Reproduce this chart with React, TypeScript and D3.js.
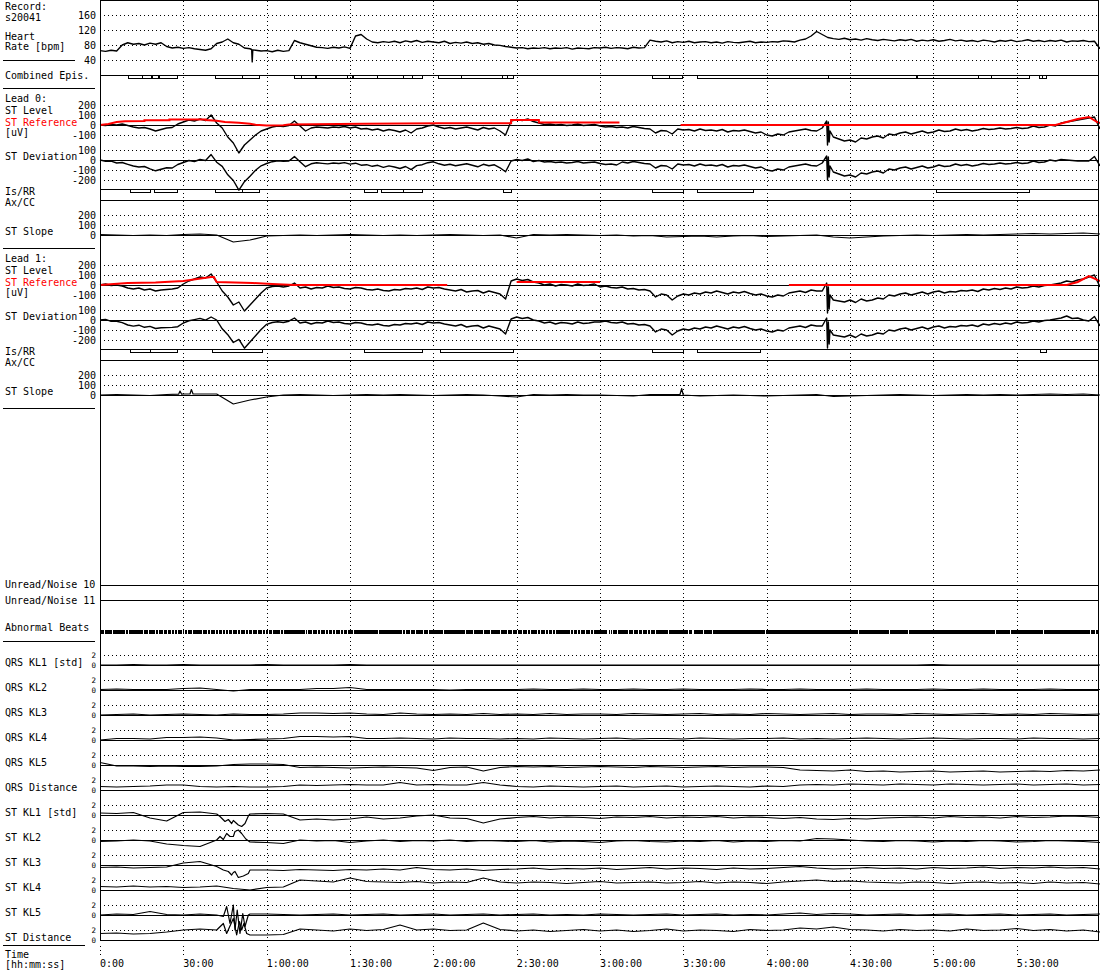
import React from "react";
import * as d3 from "d3";

// ---------- axes / ticks ----------
const T_END = 360; // minutes shown
const timeTicks = [0, 30, 60, 90, 120, 150, 180, 210, 240, 270, 300, 330];
const timeLabels = ["0:00", "30:00", "1:00:00", "1:30:00", "2:00:00", "2:30:00", "3:00:00", "3:30:00", "4:00:00", "4:30:00", "5:00:00", "5:30:00"];
const hrTicks = [160, 120, 80, 40];
const stLevelTicks = [200, 100, 0, -100];
const stDevTicks = [100, 0, -100, -200];
const stSlopeTicks = [200, 100, 0];
const klNames = ["QRS KL1 [std]", "QRS KL2", "QRS KL3", "QRS KL4", "QRS KL5", "QRS Distance", "ST KL1 [std]", "ST KL2", "ST KL3", "ST KL4", "ST KL5", "ST Distance"];

// ---------- data: 2-minute samples ----------
const heartRate = [65,63,66,64,80,86,82,84,80,85, 82,86,76,72,74,71,73,70,68,66, 70,84,88,96,86,82,72,70,66,64, 65,62,66,63,65,92,86,82,78,74, 73,71,74,72,75,71,104,108,96,88, 86,89,87,90,86,91,88,92,87,90, 88,86,90,84,87,85,88,84,86,82, 84,80,79,76,74,72,73,70,72,71, 73,70,72,71,73,69,72,71,70,73, 72,74,71,73,72,70,74,72,73,93, 90,88,91,86,89,87,90,86,88,89, 86,88,85,89,87,86,88,90,86,88, 87,89,88,91,90,88,93,96,104,116, 108,100,97,95,98,94,96,93,97,94, 92,95,93,91,94,92,95,90,93,91, 94,90,92,95,91,93,90,92,89,93, 91,88,92,90,93,89,91,94,90,92, 89,92,90,93,88,91,90,92,89,90, 70];
const heartRateSpike: [number, number][] = [[54.6, 68], [54.8, 35], [55.0, 67]];

const lead0Level = [0,-5,5,0,10,-5,-20,-30,-25,-40, -60,-45,-30,-25,10,30,50,40,60,45, 100,20,-30,-120,-180,-280,-200,-150,-100,-60, -40,-20,-10,-15,-5,40,-10,-60,-30,-20, -25,-30,-20,-25,-15,-30,-20,-40,-35,-50, -40,-60,-45,-55,-70,-50,-80,-40,-30,-10, 0,-20,-35,-25,-40,-30,-20,-35,-50,-25, -40,-30,-60,-100,40,55,45,60,35,20, 5,10,0,5,-5,0,10,-5,0,5, -10,-20,-15,-25,-20,-30,-15,-25,-35,-40, -80,-55,-60,-90,-40,-50,-45,-60,-40,-55, -50,-60,-45,-70,-55,-60,-50,-65,-80,-70, -100,-110,-90,-100,-70,-60,-50,-40,-55,-60, -30,-150,-120,-140,-160,-150,-170,-130,-140,-120, -110,-130,-90,-100,-80,-70,-90,-75,-60,-80, -70,-50,-65,-60,-40,-55,-45,-60,-50,-35, -45,-40,-30,-40,-35,-25,-35,-30,-10,-25, -20,0,-10,20,30,40,50,60,70,80, -40];
const lead0Dev = [0,-12,-12,-30,-25,-43,-60,-70,-65,-88, -108,-93,-78,-80,-45,-25,-5,-15,5,-5, 54,-22,-64,-148,-205,-302,-217,-162,-102,-58, -35,-17,-7,-12,-10,34,-17,-67,-38,-28, -34,-39,-30,-35,-26,-41,-32,-52,-47,-63, -53,-74,-59,-70,-85,-65,-96,-56,-47,-27, -18,-38,-53,-43,-58,-48,-38,-53,-68,-43, -58,-48,-78,-118,-10,5,-5,10,-15,-5, -20,-15,-25,-20,-30,-25,-15,-30,-25,-20, -35,-45,-40,-50,-20,-30,-15,-25,-35,-40, -80,-55,-60,-90,-40,-50,-45,-60,-40,-55, -50,-60,-45,-70,-55,-60,-50,-65,-80,-70, -100,-110,-90,-100,-70,-60,-50,-40,-55,-60, -30,-150,-120,-140,-160,-150,-170,-130,-140,-120, -110,-130,-90,-100,-80,-70,-90,-75,-60,-80, -70,-50,-65,-60,-40,-55,-45,-60,-50,-35, -45,-40,-30,-40,-35,-25,-35,-30,-10,-25, -20,0,-10,5,0,-5,-10,-10,-10,35, -60];
const lead0Burst: [number, number][] = [[261.6, 40], [261.9, -200], [262.2, 30], [262.5, -170], [262.8, -60]];
// ST reference: [minute, uV], null = not shown
const lead0Ref: [number, number | null][] = [[0,0],[3,10],[6,30],[9,38],[16,40],[16,48],[25,48],[25,55],[38,55],[38,50],[42,42],[45,30],[50,22],[54,12],[56,2],[60,-5],[66,-2],[68,5],[95,12],[122,18],[148,18],[148,50],[158,50],[158,25],[187,25],[187,null],[209,null],[209,0],[344,0],[348,30],[352,60],[356,80],[359,30],[360,20]];

const lead1Level = [0,10,-5,0,-10,-30,-40,-30,-50,-40, -60,-50,-45,-40,-30,10,40,60,80,70, 110,30,-60,-120,-200,-170,-260,-200,-140,-80, -30,-15,-10,-20,-10,20,-30,-20,-40,-25, -30,-10,-25,-20,-35,-40,-25,-30,-45,-50, -40,-55,-60,-45,-50,-35,-40,-30,-45,-20, -30,-25,-40,-50,-60,-45,-70,-60,-55,-80, -60,-75,-90,-140,40,60,45,55,30,20, 0,10,-10,5,0,-10,10,-5,0,10, -20,-10,-25,-30,-20,-40,-35,-50,-45,-60, -120,-90,-100,-150,-110,-90,-100,-80,-90,-70, -80,-60,-75,-90,-70,-80,-65,-85,-100,-90, -110,-120,-100,-110,-80,-70,-60,-75,-50,-60, -60,-180,-150,-160,-170,-150,-175,-140,-160,-150, -130,-140,-100,-110,-90,-80,-100,-85,-70,-90, -70,-60,-80,-65,-70,-55,-60,-50,-65,-40, -50,-35,-45,-30,-40,-20,-30,-25,-10,-20, -5,0,10,20,40,30,50,60,80,100, -20];
const lead1Dev = [0,6,-13,-12,-26,-50,-61,-52,-73,-64, -85,-78,-76,-74,-67,-30,-8,4,16,-2, 30,0,-88,-147,-225,-194,-282,-220,-158,-95, -43,-25,-18,-25,-12,20,-30,-20,-40,-25, -30,-10,-25,-20,-35,-40,-25,-30,-45,-50, -40,-55,-60,-45,-50,-35,-40,-30,-45,-20, -30,-25,-40,-50,-60,-45,-70,-60,-55,-80, -60,-75,-90,-140,10,30,15,25,0,-10, -30,-20,-40,-25,-30,-40,-20,-35,-30,-20, -20,-10,-25,-30,-20,-40,-35,-50,-45,-60, -120,-90,-100,-150,-110,-90,-100,-80,-90,-70, -80,-60,-75,-90,-70,-80,-65,-85,-100,-90, -110,-120,-100,-110,-80,-70,-60,-75,-50,-60, -60,-180,-150,-160,-170,-150,-175,-140,-160,-150, -130,-140,-100,-110,-90,-80,-100,-85,-70,-90, -70,-60,-80,-65,-70,-55,-60,-50,-65,-40, -50,-35,-45,-30,-40,-20,-30,-25,-10,-20, -5,0,10,20,40,15,20,0,-10,35, -60];
const lead1Burst: [number, number][] = [[261.6, 20], [261.9, -280], [262.2, -20], [262.5, -240], [262.8, -100]];
const lead1Ref: [number, number | null][] = [[0,0],[5,10],[10,20],[20,25],[30,40],[35,60],[40,80],[41,80],[42,30],[55,20],[62,10],[70,0],[125,0],[125,null],[150,null],[150,30],[180,30],[180,null],[248,null],[248,0],[348,0],[352,30],[356,90],[360,40]];

// ---------- 6-minute samples ----------
const lead0Slope = [5,0,-5,0,-5,5,10,0,-70,-50, -10,-5,0,-5,0,5,0,-5,0,-5, 0,5,0,-5,0,-30,5,0,5,0, -5,0,-10,-5,-20,-15,-10,-20,-10,-5, -15,-10,-5,0,-20,-30,-20,-10,-5,0, -5,0,5,0,5,10,15,10,15,20, 10];
const lead1Slope = [0,5,0,-5,5,10,10,10,-90,-50, -20,0,5,0,-5,0,5,0,5,0, -5,0,5,0,-10,-20,5,0,5,0, 0,-5,-10,5,5,-5,-10,-5,0,-5, -10,-5,0,5,-15,-10,-5,0,5,0, -5,0,5,0,5,0,5,10,5,10, 0];
const lead1SlopeSpikes: [number, number][] = [[28.3, 8], [28.8, 40], [29.4, 8], [32.4, 10], [32.9, 55], [33.5, 10], [208.8, 5], [209.4, 65], [210.0, 0]];

const qrsKL1 = [0,0,0.1,0,0,0.1,0,0,0,0, 0.1,0,0,0,0,0.1,0,0,0,0, 0,0,0,0,0,0,0,0,0,0, 0,0,0,0,0,0,0,0,0,0, 0,0,0,0,0,0,0,0,0,0, 0.1,0,0,0,0,0,0,0,0,0, 0];
const qrsKL2 = [0.1,0.2,0.1,0.1,0.1,0.3,0.4,0.1,-0.2,0.1, 0.1,0.1,0.1,0.3,0.3,0.5,0.1,0.1,0.1,0.1, 0.1,0.0,0.1,0.1,0.1, 0.1,0.2,0.1,0.1,0.2,0.1,0.1,0.2,0.1,0.1, 0.2,0.1,0.1,0.1,0.2,0.1,0.1,0.2,0.1,0.1, 0.1,0.2,0.1,0.1,0.1,0.2,0.1,0.1,0.2,0.1, 0.1,0.1,0.2,0.1,0.1,0.1];
const qrsKL3 = [0,0.1,0.2,0,0.1,0.2,0.1,0,0.2,0.1, 0.1,0.2,0.4,0.4,0.3,0.4,0.2,0.1,0.4,0.2, 0.1,0.2,0.1,0.3,0.1, 0.2,0.1,0.3,0.1,0.2,0.2,0.1,0.3,0.2,0.1, 0.2,0.3,0.1,0.2,0.1,0.3,0.2,0.1,0.2,0.3, 0.1,0.2,0.2,0.1,0.3,0.2,0.1,0.2,0.3,0.1, 0.2,0.1,0.3,0.2,0.1,0.2];
const qrsKL4 = [0,0.3,0.3,0.2,0.5,0.5,0.6,0.4,0,0.1, 0.2,0.3,0.7,0.7,0.6,0.7,0.3,0.3,0.4,0.3, 0.2,0.4,0.3,0.3,0.2, 0.3,0.2,0.4,0.3,0.2,0.3,0.4,0.2,0.3,0.3, 0.2,0.4,0.3,0.2,0.3,0.3,0.4,0.2,0.3,0.2, 0.3,0.4,0.3,0.2,0.3,0.4,0.3,0.2,0.3,0.3, 0.2,0.4,0.3,0.3,0.2,0.3];
const qrsKL5 = [0.5,-0.2,-0.2,-0.3,-0.2,-0.3,-0.3,-0.2,0.1,0.2, 0.2,0.1,-0.5,-0.4,-0.5,-0.6,-0.5,-0.4,-0.5,-0.6, -1.1,-0.5,-0.4,-1.2,-0.5, -0.3,-0.4,-0.3,-0.5,-0.4,-0.3,-0.4,-0.5,-0.3,-0.4, -0.5,-0.4,-0.3,-0.5,-0.4,-0.4,-0.5,-1.0,-1.1,-1.2,-1.0,-1.3,-1.2,-1.4,-1.3, -1.2,-1.4,-1.3,-1.2,-1.4,-1.3,-1.2,-1.3,-1.1,-1.2, -1.0];
const qrsDist = [0.7,0.6,0.7,0.8,1.0,1.0,0.7,0.6,0.7,0.6, 0.6,0.7,1.0,0.9,1.0,1.1,1.0,1.0,1.5,1.0, 1.1,1.0,1.0,1.5,1.0, 0.7,0.6,0.8,0.7,0.6,0.7,0.8,0.6,0.7,0.8, 0.6,0.7,0.8,0.7,0.6,0.8,0.7,1.0,1.1,1.0,1.2,1.1,1.0,1.2,1.1, 1.0,1.2,1.1,1.0,1.1,1.2,1.0,1.1,1.2,1.0, 1.1];
const stKL1 = [0.4,0.3,0.5,-0.6,-1.2,0.5,0.6,0.2,-1.1,0.2, 0.3,0.2,-1.0,-0.8,-1.0,-0.8,-0.4,-0.8,-0.6,-0.2, 0,-0.6,-0.7,-1.6,-0.8, -0.5,-0.3,-0.6,-0.4,-0.5,-0.7,-0.4,-0.5,-0.3,-0.6, -0.4,-0.5,-0.3,-0.6,-0.4,-0.5,-0.7,-0.5,-0.8,-0.9,-0.7,-0.8,-0.6,-0.5,-0.4, -0.6,-0.3,-0.5,-0.4,-0.6,-0.3,-0.5,-0.4,-0.2,-0.3, -0.5];
const stKL2 = [-0.3,-0.2,0,-0.2,-0.8,-1.1,-1.3,0,0.7,-0.4, -0.5,-0.7,0,-0.2,-0.1,-0.5,-0.2,0,-0.3,-0.1, -0.2,0,-0.3,-0.1,-0.2, -0.3,-0.1,-0.4,-0.2,-0.3,-0.5,-0.2,-0.1,-0.3,-0.4, -0.2,-0.3,-0.1,-0.4,-0.2,-0.3,-0.1,-0.2,0.3,0.2,0,-0.2,-0.3,-0.1,-0.2, -0.4,-0.2,-0.3,-0.1,-0.2,-0.4,-0.3,-0.1,-0.2,-0.3, -0.5];
const stKL3 = [-0.5,-0.4,-0.6,-0.5,-0.4,0.4,0.7,-0.3,-1.5,-1.0, -1.0,-1.1,-0.9,-1.0,-1.1,-0.9,-1.0,-0.8,-1.0,-0.5, -0.9,-1.0,-0.8,-1.1,-0.9, -0.8,-0.6,-0.9,-0.7,-0.8,-0.6,-0.9,-0.7,-0.5,-0.8, -0.6,-0.7,-0.9,-0.6,-0.8,-0.7,-0.5,-0.3,-0.6,-0.8,-0.7,-0.5,-0.7,-0.6,-0.8, -0.5,-0.7,-0.6,-0.4,-0.7,-0.5,-0.6,-0.4,-0.6,-0.5, -0.8];
const stKL4 = [0.7,0.6,0.8,0.6,0.7,0.5,0.6,0.8,0.3,0, 0.5,0.6,2.0,1.8,1.6,2.4,1.7,1.6,1.5,1.7, 1.4,1.6,1.5,2.4,1.6, 1.4,1.6,1.5,1.3,1.5,1.7,1.4,1.5,1.6,1.4, 1.5,1.7,1.4,1.6,1.5,1.3,1.6,1.8,2.0,1.7,1.8,1.6,1.5,1.4,1.6, 1.5,1.3,1.5,1.6,1.4,1.5,1.3,1.6,1.4,1.5, 1.2];
const stKL5 = [0,0.2,0.1,0.7,0.1,0,0.2,0,2.0,0.2, 0.2,0.1,0,0.1,0.2,0,0.1,0.2,0,0.1, 0.2,0,0.1,0.2,0, 0.1,0.2,0,0.1,0,0.2,0.1,0,0.1,0.2, 0,0.1,0.2,0,0.1,0,0.2,0.4,0.1,0.3,0.2,0,0.1,0.2,0, 0.1,0.2,0,0.1,0.2,0,0.1,0.2,0,0.1, 0.2];
const stDist = [1.3,1.4,1.2,1.3,1.6,2.0,2.2,2.0,4.3,1.0, 1.0,1.1,2.2,2.0,1.8,2.2,1.9,2.1,3.0,2.0, 2.2,1.9,2.0,3.4,2.1, 1.8,2.0,1.7,1.9,2.1,1.8,2.0,1.7,1.9,2.2, 1.8,2.0,1.9,1.7,2.1,1.9,2.0,2.4,2.2,2.6,2.1,2.0,1.8,2.1,1.9, 2.0,1.8,2.2,1.9,2.0,2.3,1.9,2.1,1.8,2.0, 1.6];
// extra readings inside the ischemic episode (minute, value)
const stKL1Ep: [number, number][] = [[43.2,-0.3],[45,-1.3],[46.2,-0.9],[47.4,-1.7],[49.8,-2.0],[51,-2.3],[52.2,-1.7],[53.4,-0.2]];
const stKL2Ep: [number, number][] = [[43.2,0.7],[44.4,0.1],[45.6,1.3],[46.8,0.7],[48.6,1.7],[49.8,2.0],[51,1.3],[52.5,0.2]];
const stKL3Ep: [number, number][] = [[44.4,-1.0],[46.2,-1.3],[47.4,-2.0],[48.6,-1.3],[49.8,-2.5],[51.6,-2.2],[53.4,-1.7]];
const stKL5Ep: [number, number][] = [[44.4,-0.3],[45.6,1.7],[46.8,-1.7],[48.6,-3.0],[49.4,1.0],[50.4,-3.7],[51.4,0.3],[52.2,-2.3],[53.4,0]];
const stDistEp: [number, number][] = [[44.4,3.3],[45.6,1.3],[49.2,1.0],[50.2,3.7],[51,2.0],[51.8,3.3],[52.8,1.3]];
const klSeries = [qrsKL1, qrsKL2, qrsKL3, qrsKL4, qrsKL5, qrsDist, stKL1, stKL2, stKL3, stKL4, stKL5, stDist];
const klExtras: [number, number][][] = [[], [], [], [], [], [], stKL1Ep, stKL2Ep, stKL3Ep, [], stKL5Ep, stDistEp];

// episodes [start, end] in minutes
const combinedEpis = [[10.1,15.1],[15.1,18.4],[18.7,20.9],[21.2,27.7],[41.4,51.1],[51.1,57.2],[69.8,72.4],[72.4,77.4],[77.8,88.9],[88.9,90.7],[91.1,99.7],[99.7,109.1],[109.1,112.3],[112.3,115.9],[121.7,130],[130,144.7],[144.7,146.5],[146.5,148.7],[198.7,204.8],[204.8,209.5],[214.9,262.1],[262.1,293.8],[294.1,316.1],[316.1,320.8],[320.8,334.4],[338,339.1],[339.1,340.6]];
const lead0IsRR = [[10.8,18],[19.4,27.7],[41.4,51.1],[51.1,57.2],[95,99.7],[101.2,109.1],[109.1,115.9],[145,148],[198.7,209.9],[214.9,235],[301,334.4]];
const lead1IsRR = [[10.8,18],[18,27.7],[40.3,58.3],[95,115.9],[122.4,148.7],[198.7,209.9],[214.9,237.6],[338.4,340.6]];
// gaps (minutes) in the abnormal-beat band
const normalBeatGaps = [1.4,4.2,9,10.2,15.6,17.4,19.8,21,22.8,24,25.4,26.6,27.8,29.4,30.2,31.4,33,36.6,38.4,39.6,41.4,42.6,43.8,45,46.2,47.4,49.2,50.4,52.2,53.4,54.6,56.4,58.2,59.4,60.4,61.8,64.8,66,73.8,74.6,76.2,78,79.2,81,82.2,83.4,84.6,86.4,87.6,88.8,91.2,100.2,108.6,109.8,111.6,113.4,116.4,118.2,123.6,131.4,134.4,138,140.4,144,146.4,148.2,150,151.8,153.6,154.8,157.2,158.4,160.2,161.4,162.6,163.8,169.2,170.4,171.6,172.8,174.6,176.4,177.6,182.4,183,183.6,184.2,186,190.2,192,193.8,195,196.8,198,199.8,204.6,211.8,213,213.6,217.2,220.2,239.4,273,284.2,291,322.2,327.6,339.6,356.4,358.2];

const FONT = "'DejaVu Sans Mono', 'Liberation Mono', monospace";

type Pt = [number, number | null];
const toPts = (vals: number[], extra: [number, number][] = []): Pt[] =>
  [...vals.map((v, i) => [(i * T_END) / (vals.length - 1), v] as Pt), ...extra].sort((a, b) => a[0] - b[0]);

export default function App() {
  const x = d3.scaleLinear().domain([0, T_END]).range([100, 1100]);
  const xr = (t: number) => Math.round(x(t)) + 0.5;

  const yHR = d3.scaleLinear().domain([40, 160]).range([60, 15]);
  const leadScales = (off: number) => ({
    level: d3.scaleLinear().domain([-100, 200]).range([135 + off, 105 + off]),
    dev: d3.scaleLinear().domain([-200, 100]).range([180 + off, 150 + off]),
    slope: d3.scaleLinear().domain([0, 200]).range([235 + off, 215 + off]),
    isrr: 189 + off,
    axcc: 200 + off,
  });
  const L0 = leadScales(0);
  const L1 = leadScales(160);
  const klScale = (i: number) => d3.scaleLinear().domain([0, 2]).range([665 + 25 * i, 655 + 25 * i]);

  const mkLine = (ys: d3.ScaleLinear<number, number>) =>
    d3.line<Pt>().defined((d) => d[1] !== null).x((d) => x(d[0])).y((d) => ys(d[1] as number));

  const dotted: React.ReactNode[] = [];
  const solid: React.ReactNode[] = [];
  const hline = (y: number, dash: boolean, key: string) => {
    const yy = Math.round(y) + 0.5;
    const el = <line key={key} x1={100} x2={1099} y1={yy} y2={yy} stroke="#000" strokeWidth={1} strokeDasharray={dash ? "1,3" : undefined} shapeRendering="crispEdges" />;
    (dash ? dotted : solid).push(el);
  };

  hrTicks.forEach((v) => hline(yHR(v), true, "hr" + v));
  hline(75, false, "sepHR");
  [L0, L1].forEach((L, li) => {
    stLevelTicks.forEach((v) => hline(L.level(v), v !== 0, `lv${li}${v}`));
    stDevTicks.forEach((v) => hline(L.dev(v), v !== 0, `dv${li}${v}`));
    stSlopeTicks.forEach((v) => hline(L.slope(v), v !== 0, `sl${li}${v}`));
    hline(L.isrr, false, `is${li}`);
    hline(L.axcc, false, `ax${li}`);
  });
  hline(585, false, "un10");
  hline(600, false, "un11");
  klSeries.forEach((_, i) => {
    const s = klScale(i);
    hline(s(2), true, `kl2${i}`);
    hline(s(0), false, `kl0${i}`);
  });

  const yLabels: React.ReactNode[] = [];
  const tickLabel = (y: number, text: string, key: string) =>
    yLabels.push(<text key={key} x={96} y={y + 4} textAnchor="end">{text}</text>);
  hrTicks.forEach((v) => tickLabel(yHR(v), String(v), "thr" + v));
  [L0, L1].forEach((L, li) => {
    stLevelTicks.forEach((v) => tickLabel(L.level(v), String(v), `tl${li}${v}`));
    stDevTicks.forEach((v) => tickLabel(L.dev(v), String(v), `td${li}${v}`));
    stSlopeTicks.forEach((v) => tickLabel(L.slope(v), String(v), `ts${li}${v}`));
  });
  klSeries.forEach((_, i) => {
    const s = klScale(i);
    yLabels.push(<text key={`k2${i}`} x={96} y={s(2) + 3.2} textAnchor="end" fontSize={7.5}>2</text>);
    yLabels.push(<text key={`k0${i}`} x={96} y={s(0) + 3.4} textAnchor="end" fontSize={7.5}>0</text>);
  });

  const boxes = (eps: number[][], y: number, key: string) =>
    eps.map((e, i) => (
      <rect key={key + i} x={xr(e[0])} y={y + 0.5} width={Math.max(1, Math.round(x(e[1]) - x(e[0])))} height={3} fill="none" stroke="#000" strokeWidth={1} shapeRendering="crispEdges" />
    ));

  const traces: React.ReactNode[] = [];
  const addTrace = (pts: Pt[], ys: d3.ScaleLinear<number, number>, key: string, w = 1.2) =>
    traces.push(<path key={key} d={mkLine(ys)(pts) || ""} fill="none" stroke="#000" strokeWidth={w} strokeLinejoin="round" />);
  addTrace(toPts(heartRate, heartRateSpike), yHR, "hr", 1.4);
  addTrace(toPts(lead0Level, lead0Burst), L0.level, "l0lv", 1.4);
  addTrace(toPts(lead0Dev, lead0Burst), L0.dev, "l0dv", 1.4);
  addTrace(toPts(lead0Slope), L0.slope, "l0sl");
  addTrace(toPts(lead1Level, lead1Burst), L1.level, "l1lv", 1.4);
  addTrace(toPts(lead1Dev, lead1Burst), L1.dev, "l1dv", 1.4);
  addTrace(toPts(lead1Slope, lead1SlopeSpikes), L1.slope, "l1sl");
  klSeries.forEach((s, i) => addTrace(toPts(s, klExtras[i]), klScale(i), "kl" + i));

  const refs = [
    <path key="r0" d={mkLine(L0.level)(lead0Ref) || ""} fill="none" stroke="#ff0000" strokeWidth={2} />,
    <path key="r1" d={mkLine(L1.level)(lead1Ref) || ""} fill="none" stroke="#ff0000" strokeWidth={2} />,
  ];

  const labels: [number, string, string?][] = [
    [10, "Record:"], [20.5, "s20041"], [39.5, "Heart"], [50, "Rate [bpm]"],
    [79, "Combined Epis."],
    [101.5, "Lead 0:"], [114, "ST Level"], [125.5, "ST Reference", "#ff0000"], [136, "[uV]"], [160, "ST Deviation"], [195, "Is/RR"], [205.5, "Ax/CC"], [235, "ST Slope"],
    [261.5, "Lead 1:"], [274, "ST Level"], [285.5, "ST Reference", "#ff0000"], [296, "[uV]"], [320, "ST Deviation"], [355, "Is/RR"], [365.5, "Ax/CC"], [395, "ST Slope"],
    [588, "Unread/Noise 10"], [604, "Unread/Noise 11"], [630.5, "Abnormal Beats"],
    ...klNames.map((n, i) => [666 + 25 * i, n] as [number, string]),
    [958, "Time"], [967.5, "[hh:mm:ss]"],
  ];

  return (
    <div style={{ position: "absolute", left: 0, top: 0 }}>
      <svg width={1100} height={970} style={{ display: "block", background: "#fff" }} fontFamily={FONT} fontSize={10}>
        <rect x={0} y={0} width={1100} height={970} fill="#fff" />
        {timeTicks.slice(1).map((t) => (
          <line key={"vg" + t} x1={xr(t)} x2={xr(t)} y1={1} y2={940} stroke="#000" strokeDasharray="1,3" shapeRendering="crispEdges" />
        ))}
        {timeTicks.map((t) => (
          <line key={"vt" + t} x1={xr(t)} x2={xr(t)} y1={946} y2={958} stroke="#000" strokeDasharray="1,3" shapeRendering="crispEdges" />
        ))}
        {dotted}
        {solid}
        {boxes(combinedEpis, 75, "ce")}
        {boxes(lead0IsRR, L0.isrr, "i0")}
        {boxes(lead1IsRR, L1.isrr, "i1")}
        <rect x={100} y={630} width={999} height={4} fill="#000" shapeRendering="crispEdges" />
        {normalBeatGaps.map((t, i) => (
          <rect key={"g" + i} x={Math.round(x(t))} y={630} width={1} height={4} fill="#fff" shapeRendering="crispEdges" />
        ))}
        {traces}
        {refs}
        <line x1={100.5} x2={100.5} y1={0} y2={941} stroke="#000" shapeRendering="crispEdges" />
        <line x1={1098.5} x2={1098.5} y1={0} y2={941} stroke="#000" shapeRendering="crispEdges" />
        <line x1={100} x2={1099} y1={0.5} y2={0.5} stroke="#000" shapeRendering="crispEdges" />
        <line x1={3} x2={75} y1={60.5} y2={60.5} stroke="#000" shapeRendering="crispEdges" />
        <line x1={3} x2={95} y1={88.5} y2={88.5} stroke="#000" shapeRendering="crispEdges" />
        <line x1={3} x2={95} y1={248.5} y2={248.5} stroke="#000" shapeRendering="crispEdges" />
        <line x1={3} x2={95} y1={408.5} y2={408.5} stroke="#000" shapeRendering="crispEdges" />
        <line x1={3} x2={95} y1={641.5} y2={641.5} stroke="#000" shapeRendering="crispEdges" />
        <line x1={3} x2={85} y1={945.5} y2={945.5} stroke="#000" shapeRendering="crispEdges" />
        {labels.map(([y, t, c], i) => (
          <text key={"lb" + i} x={5} y={y} fill={c || "#000"}>{t}</text>
        ))}
        {yLabels}
        {timeTicks.map((t, i) => (
          <text key={"tx" + i} x={x(t)} y={967}>{timeLabels[i]}</text>
        ))}
      </svg>
    </div>
  );
}
